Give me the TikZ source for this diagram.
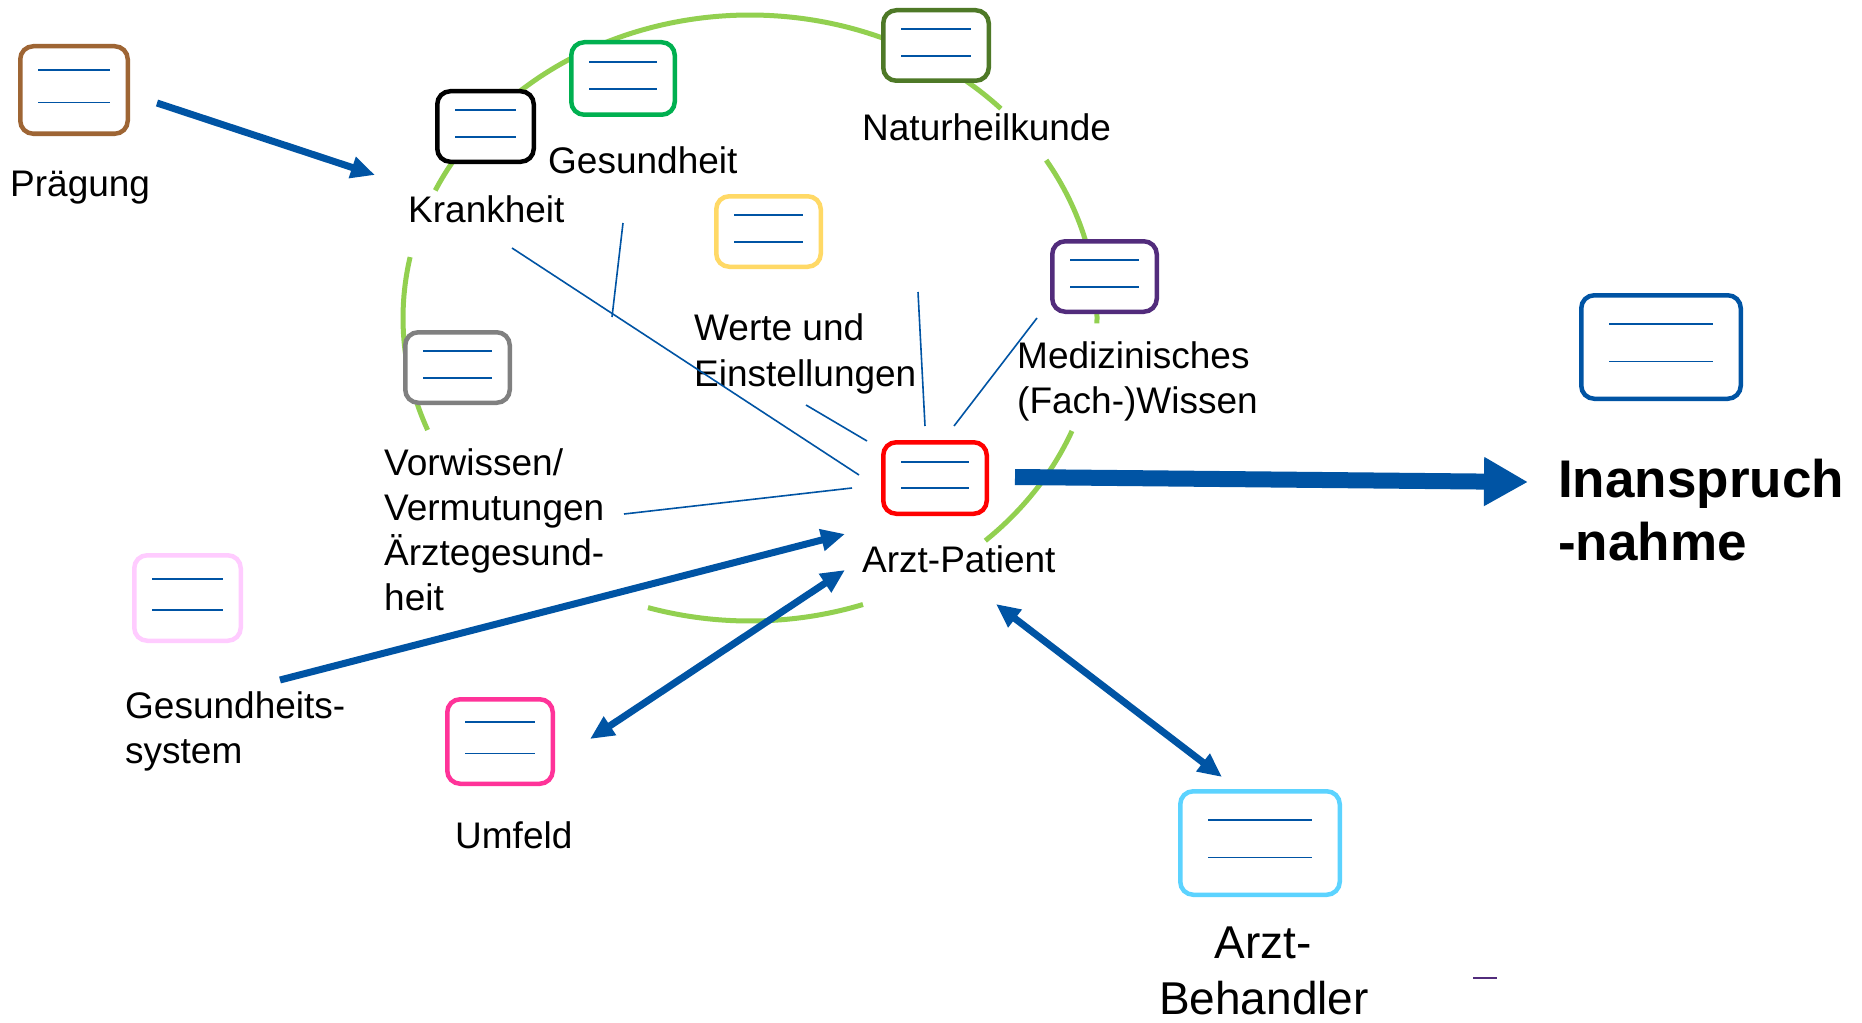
\documentclass[tikz,border=0pt]{standalone}
\usepackage{fontspec}
\setmainfont{Liberation Sans}
\usetikzlibrary{arrows.meta,calc}
\definecolor{ablue}{RGB}{0,84,164}
\definecolor{arcgreen}{RGB}{146,208,80}
\definecolor{cbrown}{RGB}{158,101,52}
\definecolor{cgreen}{RGB}{0,176,80}
\definecolor{cdgreen}{RGB}{78,121,39}
\definecolor{cyellow}{RGB}{255,217,102}
\definecolor{cgrey}{RGB}{128,128,128}
\definecolor{cpurple}{RGB}{82,44,124}
\definecolor{cred}{RGB}{255,0,0}
\definecolor{cpink}{RGB}{255,204,255}
\definecolor{cmagenta}{RGB}{255,51,153}
\definecolor{clblue}{RGB}{92,211,255}
\tikzset{
  card/.style={draw=#1, fill=white, line width=4.5pt, rounded corners=13pt, inner sep=0pt},
  cardline/.style={draw=ablue, line width=1.8pt},
  lbl/.style={anchor=base west, inner sep=0pt, font=\fontsize{37}{45}\selectfont},
  biglbl/.style={anchor=base, inner sep=0pt, font=\fontsize{46}{57}\selectfont},
  boldlbl/.style={anchor=base west, inner sep=0pt, font=\fontsize{53}{63}\selectfont\bfseries},
  thinline/.style={draw=ablue, line width=1.6pt},
  fatarrow/.style={draw=ablue, line width=7pt, -{Triangle[length=24pt,width=21pt]}},
  fatboth/.style={draw=ablue, line width=7pt, {Triangle[length=24pt,width=21pt]}-{Triangle[length=24pt,width=21pt]}},
  hugearrow/.style={draw=ablue, line width=16pt, -{Triangle[length=44pt,width=46pt]}},
  arcg/.style={draw=arcgreen, line width=5pt},
}
\newcommand\cardlines[2]{%
  \draw[cardline] ($(#1.north west)!0.285!(#1.south west)+(#2,0)$) -- ($(#1.north east)!0.285!(#1.south east)-(#2,0)$);
  \draw[cardline] ($(#1.north west)!0.635!(#1.south west)+(#2,0)$) -- ($(#1.north east)!0.635!(#1.south east)-(#2,0)$);
}
\begin{document}
\begin{tikzpicture}[x=1pt,y=-1pt]
\useasboundingbox (0,0) rectangle (1862,1022);
\fill[white] (0,0) rectangle (1862,1022);

% green ellipse segments
\coordinate (ec) at (750,318);
\foreach \a/\b in {168.4/201.7, 252.9/289, 312.7/338.1, -1/31.4, 43.7/155.1}{
  \draw[arcg] (ec) ++(\a:347pt and 303pt) arc[start angle=\a, end angle=\b, x radius=347pt, y radius=303pt];
}

% cards
\node[card=cbrown, minimum width=107.5pt, minimum height=87.5pt] (praeg) at (74,90) {};
\node[card=black, minimum width=96.5pt, minimum height=70.5pt] (krank) at (485.5,126.5) {};
\node[card=cgreen, minimum width=103.5pt, minimum height=72.5pt] (gesund) at (623,78.5) {};
\node[card=cdgreen, minimum width=105.5pt, minimum height=70.5pt] (natur) at (936,45.5) {};
\node[card=cyellow, minimum width=104.5pt, minimum height=70.5pt] (werte) at (768.5,231.5) {};
\node[card=cgrey, minimum width=104.5pt, minimum height=70.5pt] (vorw) at (457.5,367.5) {};
\node[card=cpurple, minimum width=104.5pt, minimum height=70.5pt] (mediz) at (1104.5,276.5) {};
\node[card=cred, minimum width=103.5pt, minimum height=71.5pt] (arztp) at (935,478) {};
\node[card=cpink, minimum width=106.5pt, minimum height=85.5pt] (gsys) at (187.5,598) {};
\node[card=cmagenta, minimum width=105.5pt, minimum height=84.5pt] (umfeld) at (500,741.5) {};
\node[card=clblue, minimum width=159.5pt, minimum height=103.5pt] (behand) at (1260,843) {};
\node[card=ablue, minimum width=159.5pt, minimum height=103.5pt] (inan) at (1661,347) {};

\cardlines{praeg}{20}
\cardlines{krank}{20}
\cardlines{gesund}{20}
\cardlines{natur}{20}
\cardlines{werte}{20}
\cardlines{vorw}{20}
\cardlines{mediz}{20}
\cardlines{arztp}{20}
\cardlines{gsys}{20}
\cardlines{umfeld}{20}
\cardlines{behand}{30}
\cardlines{inan}{30}

% labels
\node[lbl] (tpraeg) at (10,196) {Prägung};
\node[lbl] (tkrank) at (408,222) {Krankheit};
\node[lbl] (tgesund) at (548,173) {Gesundheit};
\node[lbl] (tnatur) at (862,140) {Naturheilkunde};
\node[lbl] (twerte1) at (694,340) {Werte und};
\node[lbl] (twerte2) at (694,386) {Einstellungen};
\node[lbl] (tmed1) at (1017,368) {Medizinisches};
\node[lbl] (tmed2) at (1017,413) {(Fach-)Wissen};
\node[lbl] (tvor1) at (384,475) {Vorwissen/};
\node[lbl] (tvor2) at (384,520) {Vermutungen};
\node[lbl] (tvor3) at (384,565) {Ärztegesund-};
\node[lbl] (tvor4) at (384,610) {heit};
\node[lbl] (tarztp) at (862,572) {Arzt-Patient};
\node[lbl] (tgsys1) at (125,718) {Gesundheits-};
\node[lbl] (tgsys2) at (125,763) {system};
\node[lbl] (tumf) at (455,848) {Umfeld};
\node[biglbl] (tbeh1) at (1263,958) {Arzt-};
\node[biglbl] (tbeh2) at (1264,1014) {Behandler};
\node[boldlbl] (tinan1) at (1558,497) {Inanspruch};
\node[boldlbl] (tinan2) at (1558,560) {-nahme};

% thin connector lines
\coordinate (k1) at (512,248); \coordinate (k2) at (859,475);
\coordinate (g1) at (623,223); \coordinate (g2) at (612,317);
\coordinate (w1) at (806,405); \coordinate (w2) at (867,441);
\coordinate (y1) at (918,292); \coordinate (y2) at (925,426);
\coordinate (m1) at (1037,318); \coordinate (m2) at (954,426);
\coordinate (v1) at (624,514); \coordinate (v2) at (852,488);
\draw[thinline] (k1) -- (k2);
\draw[thinline] (g1) -- (g2);
\draw[thinline] (w1) -- (w2);
\draw[thinline] (y1) -- (y2);
\draw[thinline] (m1) -- (m2);
\draw[thinline] (v1) -- (v2);

% thick arrows
\coordinate (p1) at (157,103); \coordinate (p2) at (375,175);
\coordinate (s1) at (280,680); \coordinate (s2) at (845,534);
\coordinate (u1) at (590,739); \coordinate (u2) at (845,570);
\coordinate (b1) at (996,604); \coordinate (b2) at (1222,777);
\coordinate (i1) at (1015,477); \coordinate (i2) at (1528,482);
\draw[fatarrow] (p1) -- (p2);
\draw[fatarrow] (s1) -- (s2);
\draw[fatboth] (u1) -- (u2);
\draw[fatboth] (b1) -- (b2);
\draw[hugearrow] (i1) -- (i2);

% small stray mark
\coordinate (z1) at (1473,978); \coordinate (z2) at (1497,978);
\draw[cpurple, line width=1.5pt] (z1) -- (z2);
\end{tikzpicture}
\end{document}
